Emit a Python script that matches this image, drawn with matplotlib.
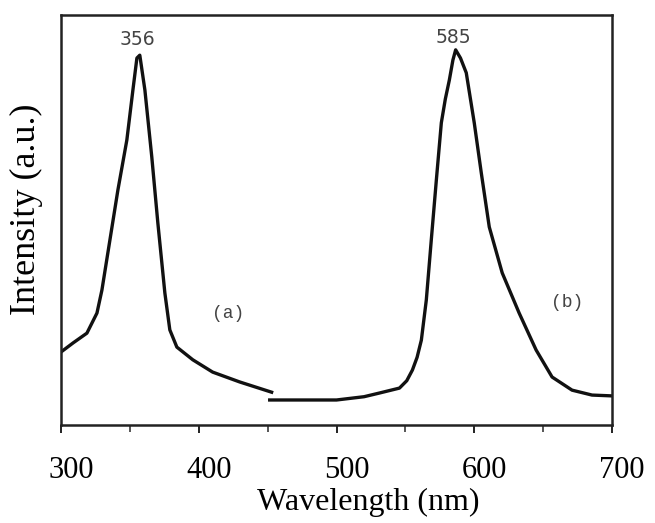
import matplotlib
matplotlib.use("Agg")
import matplotlib.pyplot as plt
import matplotlib.transforms as mtransforms

# curve (a): excitation band
wl_a = [300, 308.7, 318.8, 326.1, 329.7, 335.5, 341.3, 347.8, 352.2, 355.1, 357.2,
        360.9, 365.9, 370.3, 375.4, 379.0, 384.1, 395.7, 410.1, 429.7, 452.9]
int_a = [17.8, 20.0, 22.4, 27.3, 32.9, 45.1, 57.3, 69.5, 81.7, 89.5, 90.2,
         81.7, 65.4, 49.3, 32.2, 23.2, 19.0, 15.9, 12.9, 10.5, 8.0]

# curve (b): emission band
wl_b = [451.5, 475, 500, 510, 520, 531.2, 545.7, 551.0, 555.1, 558.5, 561.6, 565.2,
        568.8, 572.5, 576.1, 579.0, 581.9, 584.5, 586.5, 590.0, 594.2, 600.0, 605.1,
        610.9, 620.3, 632.6, 644.9, 656.5, 671.0, 685.5, 700]
int_b = [6.1, 6.1, 6.1, 6.5, 6.9, 7.8, 9.0, 10.8, 13.4, 16.5, 20.7, 30.5,
         45.1, 59.8, 73.7, 79.5, 84.1, 89.0, 91.5, 89.5, 85.9, 73.7, 61.5,
         48.3, 37.1, 27.3, 18.3, 11.7, 8.5, 7.3, 7.1]

peak_labels = [("356", 355.1, 94.1), ("585", 584.8, 94.6)]
curve_labels = [("(a)", 421, 27.3), ("(b)", 667.4, 29.8)]

major_ticks = [300, 400, 500, 600, 700]
minor_ticks = [350, 450, 550, 650]

fig = plt.figure(figsize=(6.55, 5.23), dpi=100)
ax = fig.add_axes([61 / 655, 1 - 425 / 523, 551 / 655, 410 / 523])

ax.plot(wl_a, int_a, color="#111111", lw=2.4, solid_joinstyle="round")
ax.plot(wl_b, int_b, color="#111111", lw=2.4, solid_joinstyle="round")

for txt, x, y in peak_labels:
    ax.text(x, y, txt, ha="center", va="center", fontsize=13.5,
            family="DejaVu Sans", color="#444444")
for txt, x, y in curve_labels:
    ax.text(x, y, txt, ha="center", va="center", fontsize=13,
            family="Liberation Mono", color="#444444")

ax.set_xlim(300, 700)
ax.set_ylim(0, 100)
ax.set_yticks([])
ax.set_xticks(major_ticks)
ax.set_xticks(minor_ticks, minor=True)
ax.tick_params(axis="x", which="major", direction="out", length=6, width=1.4,
               pad=16.5, labelsize=22, color="#222222")
ax.tick_params(axis="x", which="minor", direction="out", length=5, width=1.4,
               color="#555555")
for lab in ax.get_xticklabels():
    lab.set_family("Liberation Serif")
    lab.set_transform(lab.get_transform() +
                      mtransforms.ScaledTranslation(0.1, 0, fig.dpi_scale_trans))

for sp in ax.spines.values():
    sp.set_linewidth(1.8)
    sp.set_color("#222222")

ax.set_xlabel("Wavelength (nm)", family="Liberation Serif", fontsize=23)
ax.xaxis.set_label_coords(0.558, -0.153)
ax.set_ylabel("Intensity (a.u.)", family="Liberation Serif", fontsize=26)
ax.yaxis.set_label_coords(-0.033, 0.527)

fig.savefig("out.png", dpi=100)
